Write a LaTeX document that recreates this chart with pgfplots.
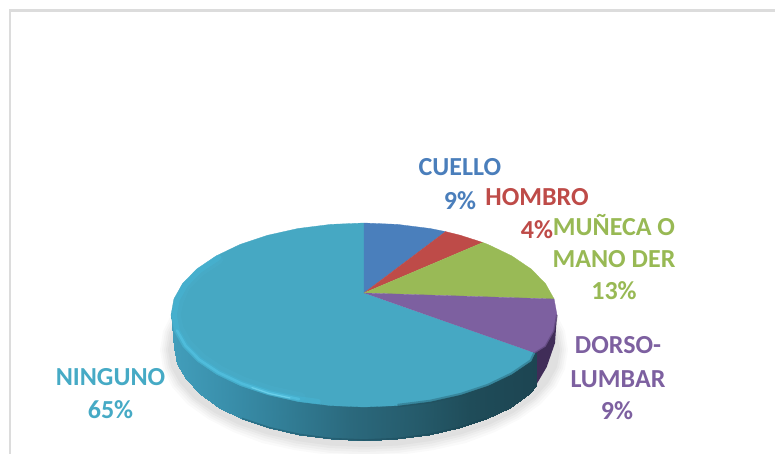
\documentclass[border=0pt]{standalone}
\usepackage{pgfplots}
\pgfplotsset{compat=1.18}
\usepackage{fontspec}
\setmainfont{Carlito}
\definecolor{cblue}{RGB}{74,127,188}
\definecolor{cred}{RGB}{190,75,72}
\definecolor{cgreen}{RGB}{153,186,86}
\definecolor{cpurple}{RGB}{125,96,160}
\definecolor{cteal}{RGB}{70,168,195}
\definecolor{lblue}{RGB}{74,126,187}
\definecolor{lred}{RGB}{190,75,72}
\definecolor{lgreen}{RGB}{152,185,84}
\definecolor{lpurple}{RGB}{125,96,160}
\definecolor{lteal}{RGB}{70,170,197}
\definecolor{frameg}{RGB}{220,220,220}
\begin{document}
\begin{tikzpicture}
\path[use as bounding box] (0,0) rectangle (775pt,454pt);
\begin{axis}[
  at={(0,0)},anchor=south west,
  scale only axis,width=775pt,height=454pt,
  xmin=0,xmax=775,ymin=0,ymax=454,y dir=reverse,
  hide axis,
  colormap={pieside}{rgb255(0pt)=(66,158,187) rgb255(59pt)=(57,142,170) rgb255(119pt)=(49,124,148) rgb255(179pt)=(43,105,125) rgb255(249pt)=(37,90,106) rgb255(299pt)=(31,76,89) rgb255(365pt)=(29,69,82)},
]
% frame
\addplot[draw=frameg,line width=2.5pt] coordinates {(10,454)(10,10.7)(775,10.7)};
% shadow
\addplot[fill=black,fill opacity=.02,draw=none] coordinates {(556,313)(565,331)(568,350)(565,369)(556,387)(541,404)(520,419)(495,432)(466,443)(434,450)(399,455)(364,457)(329,455)(294,450)(262,443)(233,432)(208,419)(187,404)(172,387)(163,369)(160,350)(163,331)(172,313)};
\addplot[fill=black,fill opacity=.025,draw=none] coordinates {(554,314)(563,331.5)(566,350)(563,368.5)(554,386)(539,402.5)(518.5,417.5)(494,430)(465,440.5)(433,448)(399,452.8)(364,454.5)(329,452.8)(295,448)(263,440.5)(234,430)(209.5,417.5)(189,402.5)(174,386)(165,368.5)(162,350)(165,331.5)(174,314)};
\addplot[fill=black,fill opacity=.025,draw=none] coordinates {(552,315)(561,332)(564,350)(561,368)(552,385)(537,401)(517,416)(493,428)(464,438)(432,446)(399,450.5)(364,452)(329,450.5)(296,446)(264,438)(235,428)(211,416)(191,401)(176,385)(167,368)(164,350)(167,332)(176,315)};
\addplot[fill=black,fill opacity=.03,draw=none] coordinates {(550,316)(559,332.5)(562,350)(559,367.5)(550,384)(535.5,399.8)(515.5,414.2)(491.5,426.2)(463,436)(431.5,443.5)(398.5,448)(364,449.5)(329.5,448)(296.5,443.5)(265,436)(236.5,426.2)(212.5,414.2)(192.5,399.8)(178,384)(169,367.5)(166,350)(169,332.5)(178,316)};
\addplot[fill=black,fill opacity=.03,draw=none] coordinates {(548,317)(557,333)(560,350)(557,367)(548,383)(534,398.5)(514,412.4)(490,424.3)(462,434)(431,441)(398,445.5)(364,447)(330,445.5)(297,441)(266,434)(238,424.3)(214,412.4)(194,398.5)(180,383)(171,367)(168,350)(171,333)(180,317)};
% side of the purple slice
\addplot[fill={rgb,255:red,64;green,45;blue,88},draw=none] coordinates {(530,345)(556.8,317)(555,343)(546.7,367)(536.7,384)(533,388)};
% side of the teal slice
\addplot[surf,shader=interp,mesh/rows=2,point meta=x] coordinates {
(171,313)(173.9,329)(182.6,344.5)(196.9,359)(216.2,372)(239.9,383.5)(267.5,392.7)(298,399.5)(330.5,403.6)(364,405)(397.5,403.6)(430,399.5)(460.5,392.7)(488.1,383.5)(511.8,372)(531.1,359)(535.5,350)

(174,348)(176.9,364)(185.5,379)(199.5,394.3)(218.5,407.5)(241.9,418.9)(269,428.1)(299,434.9)(331,439.1)(364,440.5)(397,439.1)(429,434.9)(459,428.1)(486.1,418.9)(509.5,407.5)(528.5,394.3)(536.5,385)
};
% dark lower edge of the side
\addplot[draw={rgb,255:red,20;green,60;blue,75},line width=1.6pt,opacity=.3] coordinates {(486.1,418.4)(459,427.6)(429,434.4)(397,438.6)(364,440)(331,438.6)(299,434.4)(269,427.6)(241.9,418.4)};
% slices, top face
\addplot[fill=cteal,draw=cteal,line width=.3pt] coordinates {(364,293)(535,353)(531.1,361)(511.8,374.1)(488.1,385.5)(460.5,394.7)(430,401.5)(397.5,405.6)(364,407)(330.5,405.6)(298,401.5)(267.5,394.7)(239.9,385.5)(216.2,374.1)(196.9,361)(182.6,346.5)(173.9,331)(171,315)(173.9,299)(182.6,283.5)(196.9,269)(216.2,255.9)(239.9,244.5)(267.5,235.3)(298,228.5)(330.5,224.4)(364,223)};
\addplot[fill=cblue,draw=cblue,line width=.3pt] coordinates {(364,293)(364,223)(397.5,224.4)(430,228.5)(445.6,231.6)};
\addplot[fill=cred,draw=cred,line width=.3pt] coordinates {(364,293)(445.6,231.6)(460.5,235.3)(482.8,242.5)};
\addplot[fill=cgreen,draw=cgreen,line width=.3pt] coordinates {(364,293)(482.8,242.5)(488.1,244.5)(511.8,255.9)(531.1,269)(545.4,283.5)(554.1,299)};
\addplot[fill=cpurple,draw=cpurple,line width=.3pt] coordinates {(364,293)(554.1,299)(557,315)(554.1,331)(545.4,346.5)(535,353)};
% bevel of the rim
\addplot[draw={rgb,255:red,85;green,195;blue,228},line width=9pt,opacity=.1,line cap=round,line join=round] coordinates {(218.5,259.5)(199.5,272.2)(185.5,286.4)(179,301.5)(176,315)(179,328.5)(187.5,343.6)(201.5,357.8)(220.5,370.5)(244,381.6)(271,390.5)(301,397.1)};
\addplot[draw={rgb,255:red,70;green,188;blue,222},line width=5.5pt,opacity=.3,line cap=round,line join=round] coordinates {(218.5,257.5)(199.5,270.2)(185.5,284.4)(177,299.5)(174,315)(177,330.5)(185.5,345.6)(199.5,359.8)(218.5,372.5)(242,383.6)(269,392.5)(299,399.1)(318,401.6)};
\addplot[draw={rgb,255:red,88;green,200;blue,232},line width=2.5pt,opacity=.55,line cap=round,line join=round] coordinates {(177,330.5)(185.5,345.6)(199.5,359.8)(218.5,372.5)(242,383.6)(269,392.5)(299,399.1)};
\addplot[draw={rgb,255:red,125;green,222;blue,245},line width=1.3pt,opacity=.6,line cap=round,line join=round] coordinates {(252,387.6)(269,393.5)(290,398)};
% soft dark edge on the right
\addplot[draw={rgb,255:red,31;green,76;blue,89},line width=3.5pt,opacity=.35,line join=round] coordinates {(535,353)(531.1,361)(511.8,374.1)(488.1,385.5)(460.5,394.7)(430,401.5)(397.5,405.6)};
\addplot[draw={rgb,255:red,64;green,45;blue,88},line width=2pt,opacity=.35,line join=round] coordinates {(557,315)(554.1,331)(545.4,346.5)(535,353)};
% labels
\node[anchor=base,text=lblue,font=\fontsize{26}{32}\selectfont\bfseries] at (axis cs:460,176) {CUELLO};
\node[anchor=base,text=lblue,font=\fontsize{26}{32}\selectfont\bfseries] at (axis cs:460,209) {9\%};
\node[anchor=base,text=lred,font=\fontsize{26}{32}\selectfont\bfseries] at (axis cs:537,205) {HOMBRO};
\node[anchor=base,text=lred,font=\fontsize{26}{32}\selectfont\bfseries] at (axis cs:537,238) {4\%};
\node[anchor=base,text=lgreen,font=\fontsize{26}{32}\selectfont\bfseries] at (axis cs:614,235) {MUÑECA O};
\node[anchor=base,text=lgreen,font=\fontsize{26}{32}\selectfont\bfseries] at (axis cs:614,267) {MANO DER};
\node[anchor=base,text=lgreen,font=\fontsize{26}{32}\selectfont\bfseries] at (axis cs:614,299) {13\%};
\node[anchor=base,text=lpurple,font=\fontsize{26}{32}\selectfont\bfseries] at (axis cs:618,353) {DORSO-};
\node[anchor=base,text=lpurple,font=\fontsize{26}{32}\selectfont\bfseries] at (axis cs:618,387) {LUMBAR};
\node[anchor=base,text=lpurple,font=\fontsize{26}{32}\selectfont\bfseries] at (axis cs:617,419) {9\%};
\node[anchor=base,text=lteal,font=\fontsize{26}{32}\selectfont\bfseries] at (axis cs:110.5,385) {NINGUNO};
\node[anchor=base,text=lteal,font=\fontsize{26}{32}\selectfont\bfseries] at (axis cs:110.5,418) {65\%};
\end{axis}
\end{tikzpicture}
\end{document}
